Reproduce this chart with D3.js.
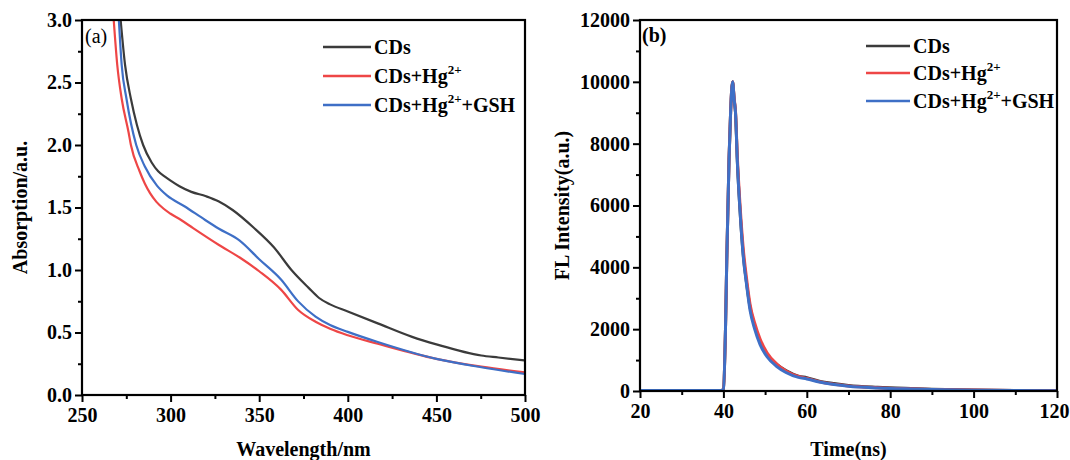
<!DOCTYPE html>
<html>
<head>
<meta charset="utf-8">
<script src="https://cdn.jsdelivr.net/npm/d3@7"></script>
<style>
  body { margin: 0; background: #fff; }
  svg text { font-family: "Liberation Serif", "Times New Roman", serif; font-weight: bold; fill: #000; }
</style>
</head>
<body>
<svg id="chart" width="1070" height="460"></svg>
<script>
// --- panel (a): UV-vis absorption, [wavelength nm, absorbance] ---
var absCDs = [[271.8, 3.0], [274.3, 2.64], [277.6, 2.37], [281, 2.16], [284.5, 2.0], [289.3, 1.86], [293, 1.79],
  [297, 1.745], [300, 1.715], [305, 1.67], [311.7, 1.625], [320, 1.59], [327, 1.55], [335, 1.48], [346.8, 1.34],
  [358.4, 1.18], [368.2, 1.0], [377.9, 0.857], [383.8, 0.776], [390, 0.725], [400, 0.668], [416.9, 0.573],
  [436.3, 0.465], [450, 0.405], [475.3, 0.316], [485, 0.30], [500, 0.276]]
var absHg = [[267.9, 3.0], [269.9, 2.64], [272.4, 2.37], [276.3, 2.10], [277.6, 2.0], [282.5, 1.79], [285.5, 1.69],
  [288.4, 1.615], [292, 1.545], [296.1, 1.49], [300, 1.45], [305.9, 1.40], [312.7, 1.335], [327.3, 1.2], [339, 1.10],
  [350, 0.99], [362.3, 0.843], [372, 0.68], [381.8, 0.586], [390, 0.53], [400, 0.478], [416.9, 0.41], [450, 0.289],
  [475.3, 0.227], [500, 0.181]]
var absGSH = [[270.8, 3.0], [272.4, 2.64], [275.1, 2.37], [280.6, 2.0], [285.4, 1.83], [292.3, 1.675], [298.1, 1.595],
  [307.8, 1.51], [319.5, 1.40], [327.3, 1.33], [339, 1.235], [350, 1.086], [362.3, 0.924], [372, 0.749],
  [381.8, 0.627], [390, 0.56], [400, 0.505], [416.9, 0.424], [450, 0.289], [475.3, 0.222], [500, 0.168]]

// --- panel (b): fluorescence decay, [time ns, intensity] ---
var flCDs = [[20, 20], [30, 20], [39.5, 20], [40, 60], [40.5, 2000], [40.8, 4200], [41.35, 7500], [41.75, 9100],
  [42.2, 10000], [42.6, 9400], [42.9, 9000], [43.35, 7400], [44.0, 5800], [44.8, 4350], [45.5, 3550], [46.4, 2700],
  [47.5, 2100], [48.8, 1600], [50.5, 1180], [52.8, 860], [55, 660], [58, 480], [60, 430], [63, 320], [66.5, 240],
  [70, 180], [77, 120], [85, 80], [90, 60], [100, 35], [110, 20], [120, 12]]
var flHg = [[20, 20], [30, 20], [39.5, 20], [40, 60], [40.5, 2000], [40.8, 4200], [41.35, 7500], [41.75, 9100],
  [42.2, 10000], [42.6, 9450], [42.9, 9050], [43.35, 7550], [44.0, 6000], [44.8, 4550], [45.5, 3700], [46.4, 2800],
  [47.5, 2200], [48.8, 1680], [50.5, 1230], [52.8, 870], [55, 650], [58, 470], [60, 410], [63, 300], [66.5, 220],
  [70, 165], [77, 105], [85, 70], [90, 52], [100, 30], [110, 18], [120, 10]]
var flGSH = [[20, 20], [30, 20], [39.5, 20], [40, 60], [40.5, 2000], [40.8, 4200], [41.35, 7500], [41.75, 9100],
  [42.2, 10000], [42.6, 9400], [42.9, 9000], [43.35, 7400], [44.0, 5800], [44.8, 4300], [45.5, 3500], [46.4, 2600],
  [47.5, 2000], [48.8, 1500], [50.5, 1100], [52.8, 790], [55, 600], [58, 440], [60, 390], [63, 290], [66.5, 210],
  [70, 155], [77, 100], [85, 65], [90, 48], [100, 26], [110, 15], [120, 10]]

var seriesNames = ['CDs', 'CDs+Hg', 'CDs+Hg+GSH']
var seriesColors = ['#3b3b3b', '#ee4646', '#3e6fc6']

var absXTicks = [250, 300, 350, 400, 450, 500]
var absYTicks = [0, 0.5, 1.0, 1.5, 2.0, 2.5, 3.0]
var flXTicks = [20, 40, 60, 80, 100, 120]
var flYTicks = [0, 2000, 4000, 6000, 8000, 10000, 12000]

var svg = d3.select('#chart')

/**
 * Draw the ticks of one panel (major with labels, minor halfway) and its clip rect
 */
function drawPanel (box, xScale, yScale, xTicks, yTicks, xFormat, yFormat, id) {
  var g = svg.append('g')

  var xMinor = xTicks.slice(0, -1).map(function (d, i) { return (d + xTicks[i + 1]) / 2 })
  var yMinor = yTicks.slice(0, -1).map(function (d, i) { return (d + yTicks[i + 1]) / 2 })

  g.append('g')
    .attr('transform', 'translate(0,' + box.bottom + ')')
    .call(d3.axisBottom(xScale).tickValues(xMinor).tickSize(4).tickFormat(''))
  g.append('g')
    .attr('transform', 'translate(' + box.left + ',0)')
    .call(d3.axisLeft(yScale).tickValues(yMinor).tickSize(4).tickFormat(''))

  var xa = g.append('g')
    .attr('transform', 'translate(0,' + box.bottom + ')')
    .call(d3.axisBottom(xScale).tickValues(xTicks).tickSize(7).tickPadding(4).tickFormat(xFormat))
  var ya = g.append('g')
    .attr('transform', 'translate(' + box.left + ',0)')
    .call(d3.axisLeft(yScale).tickValues(yTicks).tickSize(7).tickPadding(3).tickFormat(yFormat))

  g.selectAll('.domain').remove()
  g.selectAll('.tick line').attr('stroke', '#000').attr('stroke-width', 2)
  xa.selectAll('text').attr('font-size', 20).attr('dy', '0.78em')
  ya.selectAll('text').attr('font-size', 20)

  svg.append('clipPath').attr('id', id)
    .append('rect')
    .attr('x', box.left).attr('y', box.top)
    .attr('width', box.right - box.left).attr('height', box.bottom - box.top)

  return xa
}

function drawFrame (box) {
  svg.append('rect')
    .attr('x', box.left).attr('y', box.top)
    .attr('width', box.right - box.left).attr('height', box.bottom - box.top)
    .attr('fill', 'none').attr('stroke', '#000').attr('stroke-width', 2.2)
}

function drawLegend (x, ys, lineLen) {
  seriesNames.forEach(function (name, i) {
    svg.append('line')
      .attr('x1', x).attr('x2', x + lineLen)
      .attr('y1', ys[i]).attr('y2', ys[i])
      .attr('stroke', seriesColors[i]).attr('stroke-width', 2.5)
    var t = svg.append('text')
      .attr('x', x + lineLen + 3).attr('y', ys[i] + 7)
      .attr('font-size', 20)
    t.append('tspan').text('CDs')
    if (i > 0) {
      t.append('tspan').text('+Hg')
      t.append('tspan').attr('font-size', 13).attr('dy', -9).text('2+')
    }
    if (i > 1) {
      t.append('tspan').attr('dy', 9).text('+GSH')
    }
  })
}

// ---------- panel (a) ----------
var boxA = { left: 82, right: 525, top: 20, bottom: 395 }
var xA = d3.scaleLinear().domain([250, 500]).range([boxA.left, boxA.right])
var yA = d3.scaleLinear().domain([0, 3.0]).range([boxA.bottom, boxA.top])

drawPanel(boxA, xA, yA, absXTicks, absYTicks, d3.format('d'), d3.format('.1f'), 'clipA')

var lineA = d3.line().x(function (d) { return xA(d[0]) }).y(function (d) { return yA(d[1]) }).curve(d3.curveMonotoneX)
var gA = svg.append('g').attr('clip-path', 'url(#clipA)')
;[absCDs, absHg, absGSH].forEach(function (data, i) {
  gA.append('path')
    .datum(data)
    .attr('d', lineA)
    .attr('fill', 'none')
    .attr('stroke', seriesColors[i])
    .attr('stroke-width', 2.2)
})
drawFrame(boxA)

svg.append('text').attr('x', 85).attr('y', 43).attr('font-size', 20).style('font-weight', 'normal').text('(a)')
drawLegend(323, [47, 76, 105], 48)

svg.append('text')
  .attr('transform', 'translate(27,' + ((boxA.top + boxA.bottom) / 2) + ') rotate(-90)')
  .attr('text-anchor', 'middle').attr('font-size', 20)
  .text('Absorption/a.u.')
svg.append('text')
  .attr('x', (boxA.left + boxA.right) / 2).attr('y', 456)
  .attr('text-anchor', 'middle').attr('font-size', 20)
  .text('Wavelength/nm')

// ---------- panel (b) ----------
var boxB = { left: 640, right: 1057, top: 20, bottom: 391 }
var xB = d3.scaleLinear().domain([20, 120]).range([boxB.left, boxB.right])
var yB = d3.scaleLinear().domain([0, 12000]).range([boxB.bottom, boxB.top])

var xAxisB = drawPanel(boxB, xB, yB, flXTicks, flYTicks, d3.format('d'), d3.format('d'), 'clipB')
// last label sits on the page edge, nudge it in a little
xAxisB.selectAll('.tick text').filter(function (d) { return d === 120 }).attr('dx', -3)

var lineB = d3.line().x(function (d) { return xB(d[0]) }).y(function (d) { return yB(d[1]) }).curve(d3.curveMonotoneX)
var gB = svg.append('g').attr('clip-path', 'url(#clipB)')
;[flCDs, flHg, flGSH].forEach(function (data, i) {
  gB.append('path')
    .datum(data)
    .attr('d', lineB)
    .attr('fill', 'none')
    .attr('stroke', seriesColors[i])
    .attr('stroke-width', 3)
})
drawFrame(boxB)

svg.append('text').attr('x', 642).attr('y', 42).attr('font-size', 20).text('(b)')
drawLegend(866, [46, 73, 101], 44)

svg.append('text')
  .attr('transform', 'translate(569,' + ((boxB.top + boxB.bottom) / 2) + ') rotate(-90)')
  .attr('text-anchor', 'middle').attr('font-size', 20)
  .text('FL Intensity(a.u.)')
svg.append('text')
  .attr('x', (boxB.left + boxB.right) / 2).attr('y', 456)
  .attr('text-anchor', 'middle').attr('font-size', 20)
  .text('Time(ns)')
</script>
</body>
</html>
